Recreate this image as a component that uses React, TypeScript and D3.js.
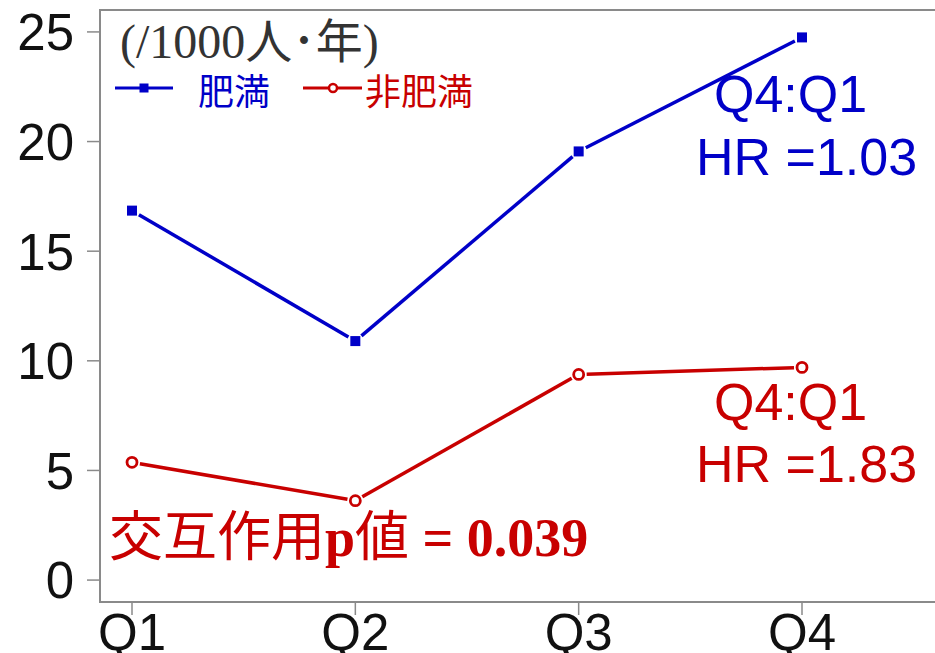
import React from "react";
import * as d3 from "d3";

const categories = ["Q1", "Q2", "Q3", "Q4"];
const obeseValues = [16.85, 10.9, 19.55, 24.75];
const nonObeseValues = [5.37, 3.62, 9.38, 9.7];
const yTicks = [0, 5, 10, 15, 20, 25];
const unitLabel = ["(/1000", "人･年", ")"];
const legendLabels = ["肥満", "非肥満"];
const hrLabels = ["HR =1.03", "HR =1.83"];
const ratioLabel = "Q4:Q1";
const pText = ["交互作用", "p", "値", " = 0.039"];

const W = 935;
const H = 653;
const BLUE = "#0000c8";
const RED = "#c80000";
const FRAME = "#8a8a8a";

export default function App() {
  const left = 100, top = 10, bottom = 602, right = 945;
  const x = d3.scalePoint<string>().domain(categories).range([132, 802]);
  const y = d3.scaleLinear().domain([-1, 26]).range([bottom, top]);

  const segs = (vals: number[], gap: number) => {
    const out: { x1: number; y1: number; x2: number; y2: number }[] = [];
    for (let i = 0; i < vals.length - 1; i++) {
      const ax = x(categories[i])!, ay = y(vals[i]);
      const bx = x(categories[i + 1])!, by = y(vals[i + 1]);
      const dx = bx - ax, dy = by - ay;
      const len = Math.hypot(dx, dy);
      const ux = dx / len, uy = dy / len;
      out.push({ x1: ax + ux * gap, y1: ay + uy * gap, x2: bx - ux * gap, y2: by - uy * gap });
    }
    return out;
  };

  const sans = "'Liberation Sans', Arial, sans-serif";
  const cjk = "'Noto Sans CJK JP', sans-serif";
  const serif = "'Liberation Serif', 'Times New Roman', serif";

  return (
    <svg width={W} height={H} style={{ position: "absolute", left: 0, top: 0 }}>
      <rect x={0} y={0} width={W} height={H} fill="#fff" />
      <path d={`M${right},${top}H${left}V${bottom}H${right}`} fill="none" stroke={FRAME} strokeWidth={2} />
      {yTicks.map((t) => (
        <g key={t}>
          <line x1={left - 13} x2={left} y1={y(t)} y2={y(t)} stroke={FRAME} strokeWidth={1.5} />
          <text x={74} y={y(t)} dy="0.36em" textAnchor="end" fontFamily={sans} fontSize={51} fill="#111">
            {t}
          </text>
        </g>
      ))}
      {categories.map((c) => (
        <g key={c}>
          <line x1={x(c)} x2={x(c)} y1={bottom} y2={bottom + 13} stroke={FRAME} strokeWidth={1.5} />
          <text x={x(c)} y={650} textAnchor="middle" fontFamily={sans} fontSize={51} fill="#111">
            {c}
          </text>
        </g>
      ))}
      {segs(obeseValues, 8).map((s, i) => (
        <line key={"b" + i} {...s} stroke={BLUE} strokeWidth={3.5} />
      ))}
      {segs(nonObeseValues, 8).map((s, i) => (
        <line key={"r" + i} {...s} stroke={RED} strokeWidth={3.5} />
      ))}
      {obeseValues.map((v, i) => (
        <rect key={"bm" + i} x={x(categories[i])! - 5} y={y(v) - 5} width={10} height={10} fill={BLUE} />
      ))}
      {nonObeseValues.map((v, i) => (
        <circle key={"rm" + i} cx={x(categories[i])} cy={y(v)} r={5} fill="#fff" stroke={RED} strokeWidth={2.8} />
      ))}
      <text x={120} y={58} fontFamily={serif} fontSize={48} fill="#333">
        <tspan>{unitLabel[0]}</tspan>
        <tspan fontFamily={cjk} fontSize={47}>{unitLabel[1]}</tspan>
        <tspan>{unitLabel[2]}</tspan>
      </text>
      <line x1={115} x2={173} y1={88} y2={88} stroke={BLUE} strokeWidth={3} />
      <rect x={139.5} y={83.5} width={9} height={9} fill={BLUE} />
      <text x={198} y={105} fontFamily={cjk} fontSize={36} fill={BLUE}>{legendLabels[0]}</text>
      <line x1={303} x2={362} y1={88} y2={88} stroke={RED} strokeWidth={3} />
      <circle cx={333} cy={88} r={4} fill="#fff" stroke={RED} strokeWidth={2.5} />
      <text x={365} y={105} fontFamily={cjk} fontSize={36} fill={RED}>{legendLabels[1]}</text>
      <text x={714} y={112} fontFamily={sans} fontSize={52} fill={BLUE}>{ratioLabel}</text>
      <text x={696} y={175} fontFamily={sans} fontSize={52} fill={BLUE}>{hrLabels[0]}</text>
      <text x={714} y={420} fontFamily={sans} fontSize={52} fill={RED}>{ratioLabel}</text>
      <text x={696} y={482} fontFamily={sans} fontSize={52} fill={RED}>{hrLabels[1]}</text>
      <text x={109} y={556} fontFamily={serif} fontWeight="bold" fontSize={54} fill={RED}>
        <tspan fontFamily={cjk} fontWeight={400} fontSize={54}>{pText[0]}</tspan>
        <tspan>{pText[1]}</tspan>
        <tspan fontFamily={cjk} fontWeight={400} fontSize={54}>{pText[2]}</tspan>
        <tspan>{pText[3]}</tspan>
      </text>
    </svg>
  );
}
